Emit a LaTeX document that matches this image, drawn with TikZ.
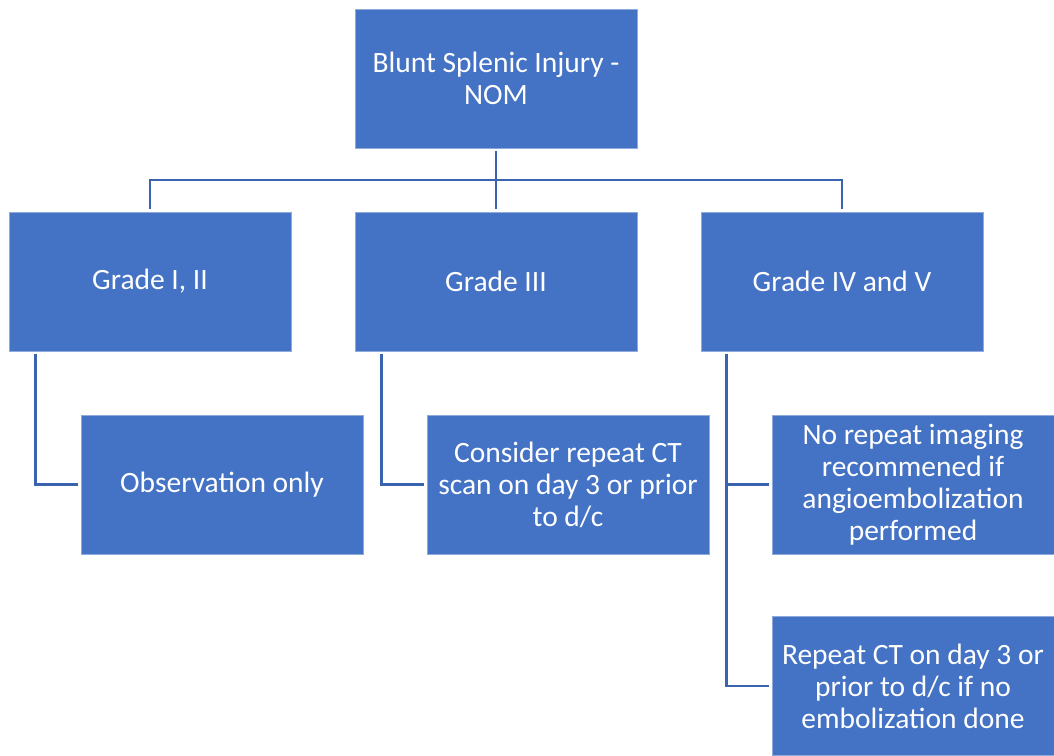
\documentclass[tikz,border=0pt]{standalone}
\usepackage{fontspec}
\setmainfont{Carlito}
\definecolor{boxblue}{HTML}{4472C4}
\definecolor{lineblue}{HTML}{3A64AE}
\definecolor{edgeblue}{HTML}{8FAADC}
\begin{document}
\begin{tikzpicture}[x=1pt,y=-1pt,
  card/.style={draw=edgeblue,line width=0.8pt,fill=boxblue,text=white,minimum width=282pt,minimum height=139pt,align=center,inner sep=4pt,font=\fontsize{29.5}{32}\selectfont},
  link/.style={draw=lineblue,line width=2.8pt}]
\useasboundingbox (0,0) rectangle (1054,755);
\node[card] (top) at (496,78.5) {Blunt Splenic Injury -\\NOM};
\node[card] (g1) at (150,281.5) {Grade I, II};
\node[card] (g3) at (496,281.5) {Grade III};
\node[card] (g45) at (842,281.5) {Grade IV and V};
\node[card] (obs) at (222,484.5) {Observation only};
\node[card] (ct) at (568,484.5) {Consider repeat CT\\scan on day 3 or prior\\to d/c};
\node[card] (norep) at (913,484.5) {No repeat imaging\\recommened if\\angioembolization\\performed};
\node[card] (rep) at (913,686) {Repeat CT on day 3 or\\prior to d/c if no\\embolization done};
\coordinate (bar) at (496,180);
\draw[link,shorten <=3pt,shorten >=3pt] (top.south) -- (g3.north);
\draw[link,shorten <=3pt,shorten >=3pt] (g1.north) -- (g1.north|-bar) -- (g45.north|-bar) -- (g45.north);
\draw[link,shorten <=3pt,shorten >=3pt] ([xshift=27pt]g1.south west) |- (obs.west);
\draw[link,shorten <=3pt,shorten >=3pt] ([xshift=27pt]g3.south west) |- (ct.west);
\draw[link,shorten <=3pt,shorten >=3pt] ([xshift=26pt]g45.south west) |- (norep.west);
\draw[link,shorten <=3pt,shorten >=3pt] ([xshift=26pt]g45.south west) |- (rep.west);
\end{tikzpicture}
\end{document}
